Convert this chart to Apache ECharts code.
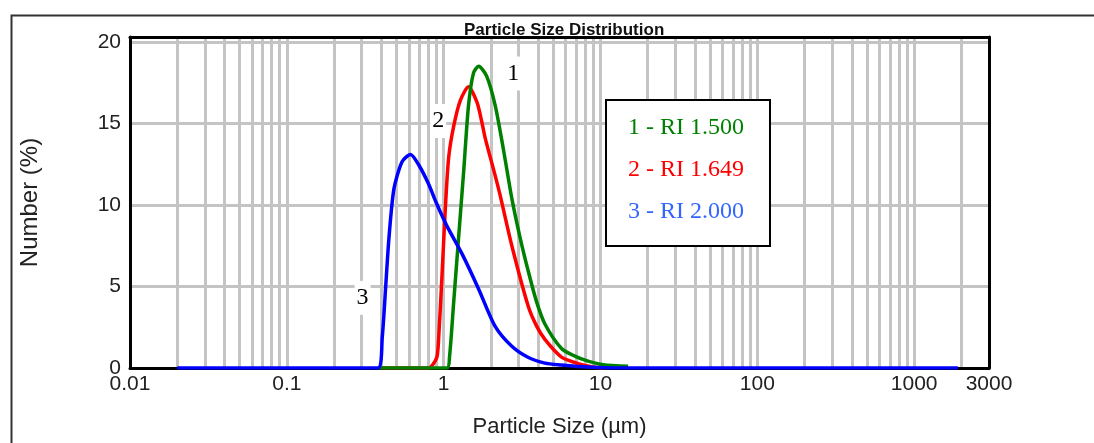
<!DOCTYPE html>
<html>
<head>
<meta charset="utf-8">
<script src="https://cdn.jsdelivr.net/npm/echarts@6/dist/echarts.min.js"></script>
<style>
html,body{margin:0;padding:0;background:#fff;}
#c{width:1094px;height:443px;}
</style>
</head>
<body>
<div id="c"></div>
<script>
// ---- data (particle size in µm, number in %) ----
const seriesNames = ['1 - RI 1.500', '2 - RI 1.649', '3 - RI 2.000'];

const sizes1  = [0.38, 1.049, 1.09, 1.157, 1.245, 1.34, 1.44, 1.55, 1.67, 1.88, 2.13, 2.40, 2.72, 3.07, 3.47, 3.9, 4.42, 5.64, 6.86, 8.33, 10.4, 15];
const number1 = [0,    0,     0.7,  3.96,  8.0,   12.0, 16.1, 18.1, 18.5, 17.9, 16.1, 13.45, 10.4, 8.0, 5.9,  4.1, 2.7,  1.2,  0.73, 0.42, 0.2,  0.1];

const sizes2  = [0.40, 0.80, 0.851, 0.907, 0.93, 0.975, 1.025, 1.076, 1.157, 1.276, 1.44, 1.63, 1.75, 1.84, 2.13, 2.29, 2.72, 3.47, 3.9, 4.42, 5.64, 7.2, 8.96, 10.4];
const number2 = [0,    0,    0.2,   0.7,   1.9,  5.6,   9.8,   12.9,  14.8,  16.4,  17.25, 16.3, 15.1, 14.1, 11.8, 10.6, 7.5,  3.75, 2.6, 1.75, 0.67, 0.27, 0.06, 0];

const sizes3  = [0.02, 0.381, 0.406, 0.427, 0.448, 0.482, 0.543, 0.615, 0.694, 0.80, 0.90, 1.05, 1.31, 1.67, 2.13, 2.72, 3.47, 4.42, 5.61, 7.2,  9.6,  12.9, 1900];
const number3 = [0,    0,     1.9,   5.0,   8.0,   11.0,  12.65, 13.1,  12.45, 11.3, 10.1, 8.7,  7.0,  4.85, 2.55, 1.33, 0.64, 0.3,  0.18, 0.09, 0.03, 0,    0];

// curve annotations (data coordinates)
const curveLabelText = ['1', '2', '3'];
const curveLabelX = [2.78, 0.923, 0.304];
const curveLabelY = [18.06, 15.15, 4.3];

// axes
const xTickValues = [0.01, 0.1, 1, 10, 100, 1000, 3000];
const xTickLabels = ['0.01', '0.1', '1', '10', '100', '1000', '3000'];
const yTickLabels = ['0', '5', '10', '15', '20'];
const xGridValues = [0.02,0.03,0.04,0.05,0.06,0.07,0.08,0.09,0.1,0.2,0.3,0.4,0.5,0.6,0.7,0.8,0.9,1,2,3,4,5,6,7,8,9,10,20,30,40,50,60,70,80,90,100,200,300,400,500,600,700,800,900,1000,2000];
const yGridValues = [5, 10, 15, 20];

// ---- chart ----
const colors = ['#008000', '#ff0000', '#0000ff'];
const legendColors = ['#008000', '#ff0000', '#3366ff'];
const pairs = (xs, ys) => xs.map((x, i) => [x, ys[i]]);
const sansFont = 'Liberation Sans, Arial, sans-serif';
const serifFont = 'Liberation Serif, Times New Roman, serif';

function curveSeries(idx, xs, ys, z) {
  return {
    type: 'line', name: seriesNames[idx], data: pairs(xs, ys),
    xAxisIndex: 0, yAxisIndex: 0,
    showSymbol: false, symbol: 'none', smooth: 0.25, z: z,
    lineStyle: { color: colors[idx], width: 3.5 },
    itemStyle: { color: colors[idx] },
    emphasis: { disabled: true },
    markPoint: {
      silent: true, z: 2, symbol: 'rect', symbolSize: [16, 34],
      itemStyle: { color: '#ffffff' },
      label: { show: true, position: 'inside', formatter: curveLabelText[idx], color: '#000',
               fontFamily: serifFont, fontSize: 24 },
      data: [{ coord: [curveLabelX[idx], curveLabelY[idx]] }]
    }
  };
}

const xLabelFmt = function (v) {
  for (let i = 0; i < xTickValues.length; i++) {
    if (Math.abs(Math.log10(v) - Math.log10(xTickValues[i])) < 0.01) return xTickLabels[i];
  }
  return '';
};
const yLabelFmt = function (v) {
  const i = yTickLabels.indexOf(String(v));
  return i >= 0 ? yTickLabels[i] : '';
};

const chart = echarts.init(document.getElementById('c'));
chart.setOption({
  animation: false,
  backgroundColor: '#ffffff',
  title: {
    text: 'Particle Size Distribution', left: 464, top: 22, padding: 0,
    textStyle: { fontSize: 17, fontWeight: 'bold', color: '#111', fontFamily: sansFont }
  },
  graphic: [{
    type: 'rect', left: 9, top: 13, silent: true, z: -10,
    shape: { width: 1100, height: 450 },
    style: { fill: 'none', stroke: '#333', lineWidth: 2 }
  }],
  legend: {
    orient: 'vertical', left: 606, top: 100, z: 10,
    padding: [16, 26, 22, 17], itemGap: 18,
    icon: 'none', itemWidth: 0, itemHeight: 24,
    backgroundColor: '#ffffff', borderColor: '#000', borderWidth: 2, borderRadius: 0,
    selectedMode: false,
    textStyle: { fontFamily: serifFont, fontSize: 24 },
    data: seriesNames.map((n, i) => ({ name: n, textStyle: { color: legendColors[i] } }))
  },
  grid: { left: 130, right: 105, top: 37, bottom: 71, containLabel: false },
  xAxis: [{
    type: 'log', logBase: 10, min: 0.01, max: 3000, position: 'bottom', z: 1,
    name: 'Particle Size (µm)', nameLocation: 'middle', nameGap: 48,
    nameTextStyle: { fontSize: 22, color: '#222', fontFamily: sansFont },
    axisLine: { show: true, lineStyle: { color: '#000', width: 3 } },
    axisTick: { show: false }, splitLine: { show: false }, minorSplitLine: { show: false },
    axisLabel: { show: true, formatter: xLabelFmt, margin: 6, fontSize: 21, color: '#222',
                 fontFamily: sansFont, showMinLabel: true, showMaxLabel: true }
  }, {
    type: 'log', logBase: 10, min: 0.01, max: 3000, position: 'top', z: 1,
    axisLine: { show: true, onZero: false, lineStyle: { color: '#000', width: 3 } },
    axisTick: { show: false }, axisLabel: { show: false }, splitLine: { show: false }
  }],
  yAxis: [{
    type: 'value', min: 0, max: 20.3, interval: 5, position: 'left', z: 1,
    name: 'Number (%)', nameLocation: 'middle', nameGap: 88,
    nameTextStyle: { fontSize: 24, color: '#222', fontFamily: sansFont },
    axisLine: { show: true, lineStyle: { color: '#000', width: 3 } },
    axisTick: { show: false }, splitLine: { show: false },
    axisLabel: { formatter: yLabelFmt, margin: 9, fontSize: 21, color: '#222', fontFamily: sansFont }
  }, {
    type: 'value', min: 0, max: 20.3, interval: 5, position: 'right', z: 1,
    axisLine: { show: true, onZero: false, lineStyle: { color: '#000', width: 3 } },
    axisTick: { show: false }, axisLabel: { show: false }, splitLine: { show: false }
  }],
  series: [
    {
      type: 'line', data: [], xAxisIndex: 0, yAxisIndex: 0, z: 0, silent: true,
      markLine: {
        silent: true, z: 0, symbol: ['none', 'none'], label: { show: false },
        lineStyle: { color: '#c4c4c4', width: 3, type: 'solid' },
        emphasis: { disabled: true },
        data: xGridValues.map(v => ({ xAxis: v })).concat(yGridValues.map(v => ({ yAxis: v })))
      }
    },
    curveSeries(1, sizes2, number2, 3),
    curveSeries(0, sizes1, number1, 4),
    curveSeries(2, sizes3, number3, 5)
  ]
});
</script>
</body>
</html>
